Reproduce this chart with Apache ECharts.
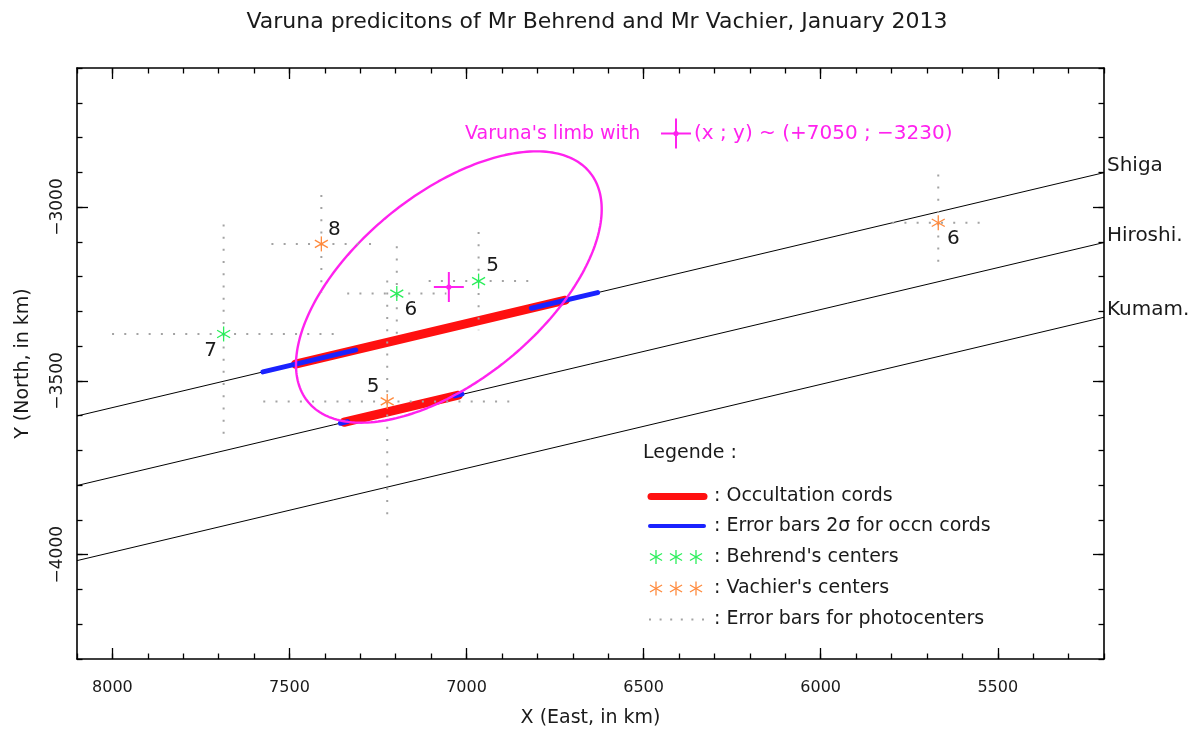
<!DOCTYPE html>
<html>
<head>
<meta charset="utf-8">
<script src="https://cdn.jsdelivr.net/npm/echarts@6/dist/echarts.min.js"></script>
<style>
  html, body { margin: 0; padding: 0; background: #fff; }
  #chart { width: 1199px; height: 735px; }
</style>
</head>
<body>
<div id="chart"></div>
<script>
// ---------- data (km in the sky plane) ----------
const xTickLabels = [5500, 6000, 6500, 7000, 7500, 8000];
const yTickLabels = [-4000, -3500, -3000];

// station shadow tracks, from X = 8100 to X = 5200
const stationNames = ['Shiga', 'Hiroshi.', 'Kumam.'];
const trackX = [8100, 5200];
const shigaTrackY = [-3601, -2901];
const hiroshimaTrackY = [-3801, -3102];
const kumamotoTrackY = [-4017, -3317];

// occultation cords [x1, y1, x2, y2]
const occultationCords = [
  [7483, -3452, 6721, -3268],
  [7346, -3619, 7023, -3541]
];
// 2-sigma error bars at the cord ends [x1, y1, x2, y2]
const cordErrorBars = [
  [7575, -3474, 7313, -3411],
  [6817, -3291, 6630, -3246],
  [7356, -3622, 7336, -3617],
  [7033, -3543, 7013, -3538]
];

// Behrend's predicted centers
const behrendX = [7686, 7197, 6966];
const behrendY = [-3365, -3249, -3213];
const behrendErrX = [315, 140, 141];
const behrendErrY = [315, 136, 141];
const behrendTags = ['7', '6', '5'];

// Vachier's predicted centers
const vachierX = [7410, 7224, 5668];
const vachierY = [-3106, -3559, -3045];
const vachierErrX = [141, 350, 130];
const vachierErrY = [141, 348, 139];
const vachierTags = ['8', '5', '6'];

// fitted limb of Varuna
const limbCenter = [7050, -3230];
const limbSemiAxes = [517, 267];
const limbTiltDeg = 140;

// ---------- styling ----------
const FONT = 'DejaVu Sans';
const INK = '#1a1a1a';
const GREEN = '#2aee5a';
const ORANGE = '#ff8a3d';
const MAGENTA = '#ff22ee';
const RED = '#ff1010';
const BLUE = '#1a22ff';
const DOTS = '#a3a3a3';

// label placement around each center (pixels)
const behrendTagOffset = [[-13, 17], [14, 16], [14, -15]];
const vachierTagOffset = [[13, -14], [-14, -15], [15, 16]];

const minus = v => String(v).replace('-', '\u2212');

// ---------- helpers ----------
function asterisk(cx, cy, r, color, lw) {
  const c = Math.cos(Math.PI / 6) * r, s = 0.5 * r;
  const st = { stroke: color, lineWidth: lw };
  return [
    { type: 'line', shape: { x1: cx, y1: cy - r, x2: cx, y2: cy + r }, style: st },
    { type: 'line', shape: { x1: cx - c, y1: cy - s, x2: cx + c, y2: cy + s }, style: st },
    { type: 'line', shape: { x1: cx - c, y1: cy + s, x2: cx + c, y2: cy - s }, style: st }
  ];
}
function plusMark(cx, cy, r, color) {
  const st = { stroke: color, lineWidth: 2 };
  return [
    { type: 'line', shape: { x1: cx - r, y1: cy, x2: cx + r, y2: cy }, style: st },
    { type: 'line', shape: { x1: cx, y1: cy - r, x2: cx, y2: cy + r }, style: st },
    { type: 'circle', shape: { cx: cx, cy: cy, r: 2.6 }, style: { fill: color } }
  ];
}

function rows(xs, ys, exs, eys) {
  return xs.map((x, i) => [x, ys[i], exs[i], eys[i]]);
}

function errorBarRender(params, api) {
  const x = api.value(0), y = api.value(1), ex = api.value(2), ey = api.value(3);
  const l = api.coord([x + ex, y]), r = api.coord([x - ex, y]);
  const t = api.coord([x, y + ey]), b = api.coord([x, y - ey]);
  const st = { stroke: DOTS, lineWidth: 2, lineDash: [2, 10.2] };
  return { type: 'group', children: [
    { type: 'line', shape: { x1: l[0], y1: l[1], x2: r[0], y2: r[1] }, style: st },
    { type: 'line', shape: { x1: t[0], y1: t[1], x2: b[0], y2: b[1] }, style: st }
  ]};
}

function centerRender(color, tags, offsets) {
  return function (params, api) {
    const p = api.coord([api.value(0), api.value(1)]);
    const off = offsets[params.dataIndex];
    return { type: 'group', children: asterisk(p[0], p[1], 7.5, color, 1.3).concat([
      { type: 'text', x: p[0] + off[0], y: p[1] + off[1],
        style: { text: tags[params.dataIndex], fill: INK, fontSize: 20, fontFamily: FONT,
                 align: 'center', verticalAlign: 'middle' } }
    ])};
  };
}

function segmentRender(color, width) {
  return function (params, api) {
    const a = api.coord([api.value(0), api.value(1)]);
    const b = api.coord([api.value(2), api.value(3)]);
    return { type: 'line', shape: { x1: a[0], y1: a[1], x2: b[0], y2: b[1] },
             style: { stroke: color, lineWidth: width, lineCap: 'round' } };
  };
}

function trackRender(params, api) {
  const a = api.coord([api.value(0), api.value(1)]);
  const b = api.coord([api.value(2), api.value(3)]);
  const end = a[0] > b[0] ? a : b;
  return { type: 'group', children: [
    { type: 'line', shape: { x1: a[0], y1: a[1], x2: b[0], y2: b[1] }, style: { stroke: '#000', lineWidth: 1 } },
    { type: 'text', x: end[0] + 3, y: end[1] - 7,
      style: { text: stationNames[params.dataIndex], fill: INK, fontSize: 20, fontFamily: FONT,
               align: 'left', verticalAlign: 'middle' } }
  ]};
}

function limbOutline() {
  const pts = [];
  const a = limbSemiAxes[0], b = limbSemiAxes[1];
  const th = limbTiltDeg * Math.PI / 180;
  const n = 240;
  for (let i = 0; i <= n; i++) {
    const t = 2 * Math.PI * i / n;
    pts.push([
      limbCenter[0] + a * Math.cos(t) * Math.cos(th) - b * Math.sin(t) * Math.sin(th),
      limbCenter[1] + a * Math.cos(t) * Math.sin(th) + b * Math.sin(t) * Math.cos(th)
    ]);
  }
  return pts;
}

// ---------- axes ----------
const tickStyle = { color: '#000', width: 1.3 };
function xAxisCfg(position, major, extra) {
  return Object.assign({
    type: 'value', gridIndex: 0, position: position, min: 5200, max: 8100, inverse: true, interval: 100,
    axisLine: { show: !major, onZero: false, lineStyle: { color: '#000', width: 1.6 } },
    axisTick: major ? { show: true, inside: true, length: 11, customValues: xTickLabels, lineStyle: tickStyle }
                    : { show: true, inside: true, length: 5.5, lineStyle: tickStyle },
    axisLabel: { show: false },
    splitLine: { show: false }
  }, extra || {});
}
function yAxisCfg(position, major, extra) {
  return Object.assign({
    type: 'value', gridIndex: 0, position: position, min: -4300, max: -2600, interval: 100,
    axisLine: { show: !major, onZero: false, lineStyle: { color: '#000', width: 1.6 } },
    axisTick: major ? { show: true, inside: true, length: 11, customValues: yTickLabels, lineStyle: tickStyle }
                    : { show: true, inside: true, length: 5.5, lineStyle: tickStyle },
    axisLabel: { show: false },
    splitLine: { show: false }
  }, extra || {});
}

// ---------- legend drawing ----------
const legendText = (x, y, t) => ({ type: 'text', x: x, y: y,
  style: { text: t, fill: INK, fontSize: 19, fontFamily: FONT, align: 'left', verticalAlign: 'middle' } });
const legendGraphics = [
  legendText(643, 453, 'Legende :'),
  { type: 'line', shape: { x1: 651, y1: 496.5, x2: 704, y2: 496.5 }, style: { stroke: RED, lineWidth: 7, lineCap: 'round' } },
  legendText(714, 496, ': Occultation cords'),
  { type: 'line', shape: { x1: 650, y1: 526, x2: 704, y2: 526 }, style: { stroke: BLUE, lineWidth: 4, lineCap: 'round' } },
  legendText(714, 526, ': Error bars 2\u03c3 for occn cords'),
  legendText(714, 557, ": Behrend's centers"),
  legendText(714, 588, ": Vachier's centers"),
  { type: 'line', shape: { x1: 649, y1: 619.5, x2: 705, y2: 619.5 }, style: { stroke: DOTS, lineWidth: 2, lineDash: [2, 8.6] } },
  legendText(714, 619, ': Error bars for photocenters')
];
[656, 676, 696].forEach(cx => {
  asterisk(cx, 557, 7, GREEN, 1.3).forEach(e => legendGraphics.push(e));
  asterisk(cx, 588.5, 7, ORANGE, 1.3).forEach(e => legendGraphics.push(e));
});

// limb annotation
const annotation = [
  { type: 'text', x: 465, y: 134, style: { text: "Varuna's limb with", fill: MAGENTA, fontSize: 19, fontFamily: FONT, align: 'left', verticalAlign: 'middle' } },
  { type: 'text', x: 694, y: 134, style: { text: '(x ; y) ~ (+' + limbCenter[0] + ' ; ' + minus(limbCenter[1]) + ')', fill: MAGENTA, fontSize: 20, fontFamily: FONT, align: 'left', verticalAlign: 'middle' } }
].concat(plusMark(676, 133.5, 15, MAGENTA));

// ---------- chart ----------
const chart = echarts.init(document.getElementById('chart'), null, { renderer: 'canvas' });
chart.setOption({
  animation: false,
  backgroundColor: '#fff',
  title: {
    text: 'Varuna predicitons of Mr Behrend and Mr Vachier, January 2013',
    left: 592, top: 6, textAlign: 'center',
    textStyle: { fontFamily: FONT, fontSize: 22, fontWeight: 'normal', color: INK }
  },
  grid: { left: 77, top: 68, width: 1027, height: 591, containLabel: false },
  xAxis: [
    xAxisCfg('bottom', false, {
      name: 'X (East, in km)', nameLocation: 'middle', nameGap: 50,
      nameTextStyle: { fontFamily: FONT, fontSize: 19, color: INK },
      axisLabel: { show: true, customValues: xTickLabels, margin: 21, fontFamily: FONT, fontSize: 16, color: INK,
                   formatter: v => String(v) }
    }),
    xAxisCfg('bottom', true),
    xAxisCfg('top', false),
    xAxisCfg('top', true)
  ],
  yAxis: [
    yAxisCfg('left', false, {
      name: 'Y (North, in km)', nameLocation: 'middle', nameGap: 44,
      nameTextStyle: { fontFamily: FONT, fontSize: 19, color: INK },
      axisLabel: { show: true, customValues: yTickLabels, rotate: 90, margin: 11, fontFamily: FONT, fontSize: 17, color: INK,
                   formatter: v => minus(v) }
    }),
    yAxisCfg('left', true),
    yAxisCfg('right', false),
    yAxisCfg('right', true)
  ],
  graphic: legendGraphics.concat(annotation),
  series: [
    { type: 'custom', name: 'tracks', z: 1, renderItem: trackRender, encode: { x: [0, 2], y: [1, 3] },
      data: [
        [trackX[0], shigaTrackY[0], trackX[1], shigaTrackY[1]],
        [trackX[0], hiroshimaTrackY[0], trackX[1], hiroshimaTrackY[1]],
        [trackX[0], kumamotoTrackY[0], trackX[1], kumamotoTrackY[1]]
      ] },
    { type: 'custom', name: 'cords', z: 2, renderItem: segmentRender(RED, 9), encode: { x: [0, 2], y: [1, 3] },
      data: occultationCords },
    { type: 'custom', name: 'cord errors', z: 3, renderItem: segmentRender(BLUE, 5), encode: { x: [0, 2], y: [1, 3] },
      data: cordErrorBars },
    { type: 'line', name: 'limb', z: 4, showSymbol: false, symbol: 'none', smooth: false,
      lineStyle: { color: MAGENTA, width: 2.4 }, data: limbOutline() },
    { type: 'custom', name: 'photocenter errors', z: 5, renderItem: errorBarRender, encode: { x: 0, y: 1 },
      data: rows(behrendX, behrendY, behrendErrX, behrendErrY).concat(rows(vachierX, vachierY, vachierErrX, vachierErrY)) },
    { type: 'custom', name: "Behrend's centers", z: 6, renderItem: centerRender(GREEN, behrendTags, behrendTagOffset),
      encode: { x: 0, y: 1 }, data: behrendX.map((x, i) => [x, behrendY[i]]) },
    { type: 'custom', name: "Vachier's centers", z: 6, renderItem: centerRender(ORANGE, vachierTags, vachierTagOffset),
      encode: { x: 0, y: 1 }, data: vachierX.map((x, i) => [x, vachierY[i]]) },
    { type: 'custom', name: 'limb center', z: 7,
      renderItem: (params, api) => {
        const p = api.coord([api.value(0), api.value(1)]);
        return { type: 'group', children: plusMark(p[0], p[1], 15, MAGENTA) };
      },
      encode: { x: 0, y: 1 }, data: [limbCenter] }
  ]
});
</script>
</body>
</html>
